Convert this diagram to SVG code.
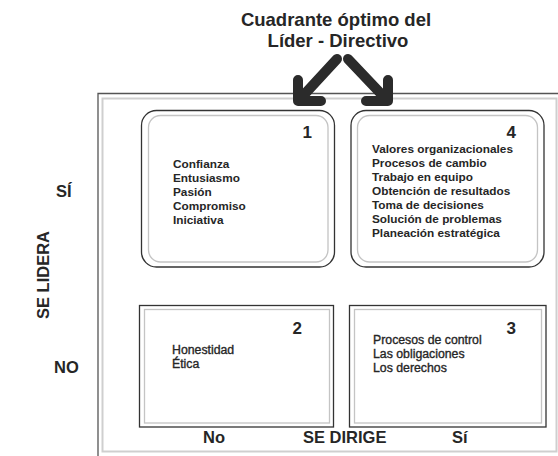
<svg xmlns="http://www.w3.org/2000/svg" width="558" height="456" viewBox="0 0 558 456">
<style>
text{font-family:"Liberation Sans",Arial,sans-serif;fill:#262626}
.title{font-size:18.5px;font-weight:bold;text-anchor:middle}
.axis{font-size:16.5px;font-weight:bold}
.num{font-size:17px;font-weight:bold;text-anchor:end}
.item{font-size:11.8px;font-weight:bold}
.item2{font-size:12.3px;stroke:#262626;stroke-width:0.35}
.outer{fill:none;stroke:#333;stroke-width:1.3}
.inner{fill:none;stroke:#c4c4c4;stroke-width:1.3}
.arrow{fill:none;stroke:#2b2b2b;stroke-width:10;stroke-linecap:round;stroke-linejoin:round}
</style>
<rect width="558" height="456" fill="#fff"/>
<g id="frame">
<path d="M98 456 V93.5 H558" fill="none" stroke="#555" stroke-width="1.3"/>
<rect x="102.5" y="98.5" width="454" height="353" fill="none" stroke="#cfcfcf" stroke-width="2"/>
</g>
<g id="title">
<text class="title" x="336" y="26">Cuadrante óptimo del</text>
<text class="title" x="338" y="47">Líder - Directivo</text>
</g>
<g id="connectors">
<path class="arrow" d="M337 59 L301 98 M298 80 V101 H321"/>
<path class="arrow" d="M348 59 L385 98 M388 80 V101 H366"/>
</g>
<g id="q1">
<rect class="outer" x="141.5" y="110.5" width="193" height="156.5" rx="15"/>
<rect class="inner" x="148.5" y="115.5" width="179.5" height="146.5" rx="12"/>
<text class="num" x="312" y="138">1</text>
<text class="item" x="173" y="168">Confianza</text>
<text class="item" x="173" y="182">Entusiasmo</text>
<text class="item" x="173" y="196">Pasión</text>
<text class="item" x="173" y="210">Compromiso</text>
<text class="item" x="173" y="224">Iniciativa</text>
</g>
<g id="q4">
<rect class="outer" x="351" y="110.5" width="193" height="156.5" rx="15"/>
<rect class="inner" x="357.5" y="115.5" width="180" height="146.5" rx="12"/>
<text class="num" x="516" y="138">4</text>
<text class="item" x="372" y="153">Valores organizacionales</text>
<text class="item" x="372" y="167">Procesos de cambio</text>
<text class="item" x="372" y="181">Trabajo en equipo</text>
<text class="item" x="372" y="195">Obtención de resultados</text>
<text class="item" x="372" y="209">Toma de decisiones</text>
<text class="item" x="372" y="223">Solución de problemas</text>
<text class="item" x="372" y="237">Planeación estratégica</text>
</g>
<g id="q2">
<rect class="outer" x="139.5" y="305.5" width="194" height="121.5" stroke="#555"/>
<rect class="inner" x="144.5" y="309.5" width="185" height="113.5" stroke="#999"/>
<text class="num" x="302" y="334">2</text>
<text class="item2" x="172" y="354">Honestidad</text>
<text class="item2" x="172" y="368">Ética</text>
</g>
<g id="q3">
<rect class="outer" x="349.5" y="305.5" width="196.5" height="121.5" stroke="#555"/>
<rect class="inner" x="354.5" y="309.5" width="187" height="113.5" stroke="#999"/>
<text class="num" x="516" y="334">3</text>
<text class="item2" x="373" y="344">Procesos de control</text>
<text class="item2" x="373" y="358">Las obligaciones</text>
<text class="item2" x="373" y="372">Los derechos</text>
</g>
<g id="axes">
<text class="axis" x="56" y="197">SÍ</text>
<text class="axis" x="54" y="373">NO</text>
<text class="axis" transform="translate(49 275) rotate(-90)" text-anchor="middle">SE LIDERA</text>
<text class="axis" x="203" y="443">No</text>
<text class="axis" x="303" y="443">SE DIRIGE</text>
<text class="axis" x="452" y="443">Sí</text>
</g>
</svg>
